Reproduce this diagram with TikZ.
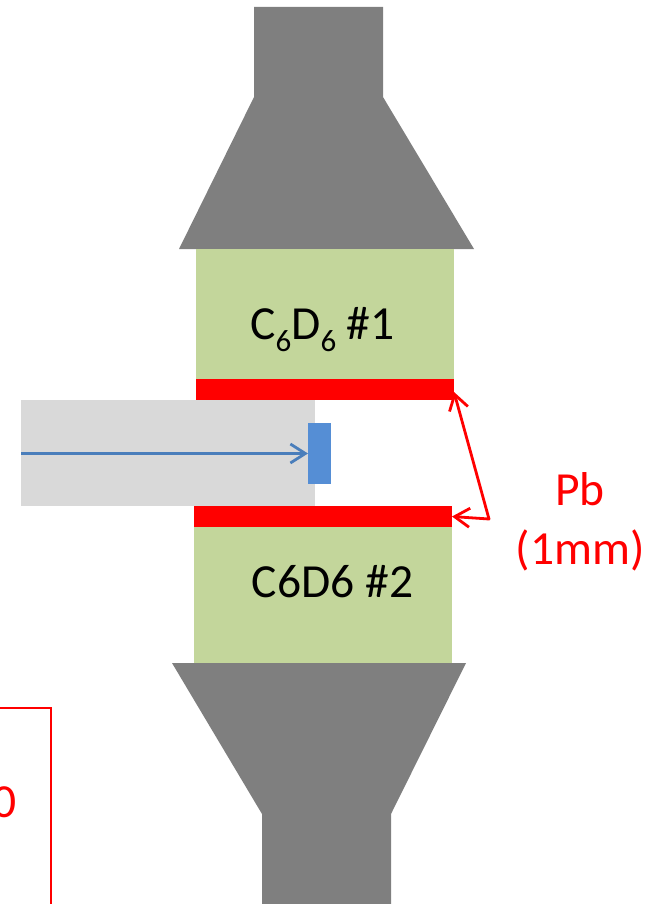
\documentclass[tikz,border=0pt]{standalone}
\usepackage{fontspec}
\setmainfont{Carlito}
\usetikzlibrary{arrows.meta}
\definecolor{hgray}{HTML}{7F7F7F}
\definecolor{lgray}{HTML}{D9D9D9}
\definecolor{cgreen}{HTML}{C3D69B}
\definecolor{pblue}{HTML}{558ED5}
\definecolor{lblue}{HTML}{4A7EBB}
\newcommand{\lowsix}{\raisebox{-12.5pt}{\fontsize{31}{31}\selectfont 6}}
\tikzset{
  block/.style={inner sep=0pt,outer sep=0pt,anchor=south west},
  barbtip/.tip={Straight Barb[length=15pt,width=19pt,line width=2.8pt]},
  lab/.style={font=\fontsize{47.5}{59}\selectfont,inner sep=0pt,anchor=base}
}
\begin{document}
\begin{tikzpicture}[x=1pt,y=-1pt]
\useasboundingbox (0,0) rectangle (651,904);
\fill[hgray] (254,7)--(383,7)--(383,97)--(474,249)--(179,249)--(254,97)--cycle;
\fill[hgray] (172,663)--(466,663)--(391,814)--(391,904)--(262,904)--(262,814)--cycle;
\node[block,fill=cgreen,minimum width=258pt,minimum height=130pt] (g1) at (196,379) {};
\node[block,fill=cgreen,minimum width=258pt,minimum height=136pt] (g2) at (194,663) {};
\node[block,fill=lgray,minimum width=294pt,minimum height=106pt] (beam) at (21,506) {};
\node[block,fill=red,minimum width=258pt,minimum height=21pt] (pb1) at (196,400) {};
\node[block,fill=red,minimum width=258pt,minimum height=21pt] (pb2) at (194,527) {};
\node[block,fill=pblue,minimum width=23pt,minimum height=61pt] (tgt) at (308,484) {};
\node[lab] (t1) at (322.5,339) {C\lowsix D\lowsix\ \#1};
\node[lab] (t2) at (332.5,597.5) {C6D6 \#2};
\node[lab,red,align=center] (t3) at (580,564.5) {Pb\\(1mm)};
\node[lab,red,anchor=base east] (t4) at (16.5,817.5) {0};
\coordinate (bs) at (21,453.5);
\coordinate (j) at (489,519);
\draw[lblue,line width=2.8pt,-barbtip] (bs) -- (tgt.west |- bs);
\path (pb1.south east) ++(0,-8) coordinate (e1);
\draw[red,line width=2.8pt,line join=round,barbtip-barbtip] (e1) -- (j) -- (pb2.east);
\coordinate (ra) at (0,708);
\coordinate (rb) at (51,708);
\coordinate (rc) at (51,904);
\draw[red,line width=1.7pt] (ra) -- (rb) -- (rc);
\end{tikzpicture}
\end{document}
